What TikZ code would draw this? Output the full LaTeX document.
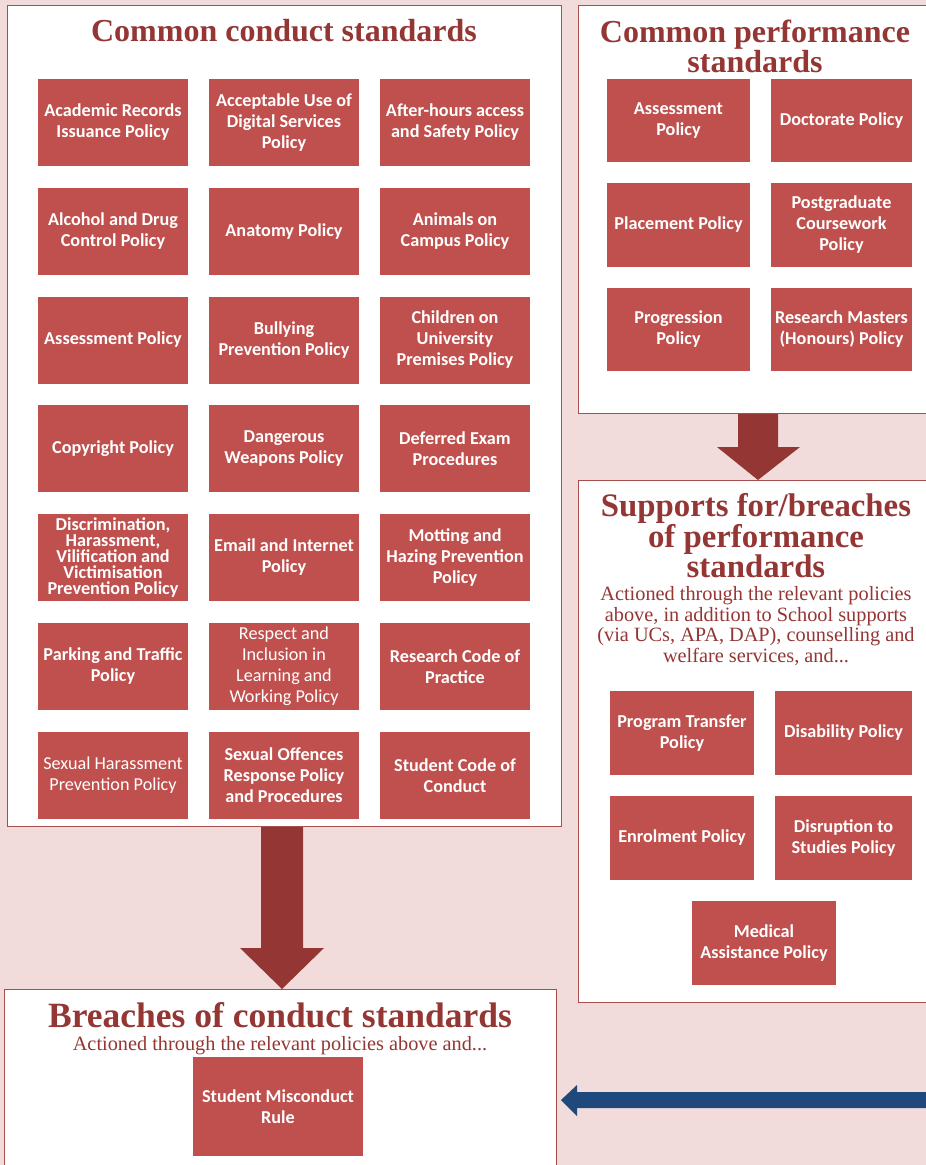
\documentclass[tikz,border=0pt]{standalone}
\usepackage{fontspec}
\setmainfont{Liberation Serif}
\newfontfamily\boxfont{Carlito}
\usetikzlibrary{calc}
\definecolor{bgpink}{HTML}{F2DCDB}
\definecolor{boxred}{HTML}{C0504D}
\definecolor{darkred}{HTML}{943634}
\definecolor{panelline}{HTML}{A5504D}
\definecolor{arrowblue}{HTML}{1F497D}
\tikzset{
  panel/.style={draw=panelline, fill=white, line width=1pt, anchor=north west, inner sep=0pt},
  pbox/.style={fill=boxred, text=white, align=center, inner sep=0pt, anchor=center,
    font=\boxfont\bfseries\fontsize{18.2}{21}\selectfont},
  lbox/.style={pbox, minimum width=150pt, minimum height=87pt},
  rbox/.style={pbox, minimum height=84pt},
  regtext/.style={font=\boxfont\fontsize{18.2}{21}\selectfont},
  ttl/.style={text=darkred, align=center, inner sep=0pt, font=\bfseries\fontsize{32}{30}\selectfont},
  sub/.style={text=darkred, align=center, inner sep=0pt, font=\fontsize{20.3}{20.7}\selectfont},
}
\begin{document}
\begin{tikzpicture}[x=1pt,y=-1pt]
\useasboundingbox (0,0) rectangle (926,1165);
\clip (0,0) rectangle (926,1165);
\fill[bgpink] (0,0) rectangle (926,1165);

% panels
\node[panel, minimum width=554pt, minimum height=821pt] (condpanel) at (7,5) {};
\node[panel, minimum width=360pt, minimum height=408pt] (perfpanel) at (578,5) {};
\node[panel, minimum width=360pt, minimum height=522pt] (supppanel) at (578,480) {};
\node[panel, minimum width=552pt, minimum height=200pt] (breachpanel) at (4,989) {};

% titles
\node[ttl] (t1) at (284,31) {Common conduct standards};
\node[ttl, font=\bfseries\fontsize{32}{30}\selectfont] (t2) at (755,46) {Common performance\\standards};
\node[ttl, font=\bfseries\fontsize{32.8}{30.5}\selectfont] (t3) at (756,536) {Supports for/breaches\\of performance\\standards};
\node[sub] (s3) at (756,626) {Actioned through the relevant policies\\above, in addition to School supports\\(via UCs, APA, DAP), counselling and\\welfare services, and...};
\node[ttl, font=\bfseries\fontsize{35.5}{34}\selectfont] (t4) at (280,1015) {Breaches of conduct standards};
\node[sub] (s4) at (280,1046) {Actioned through the relevant policies above and...};

% left grid
\node[lbox] (c11) at (113,122.5) {Academic Records\\Issuance Policy};
\node[lbox] (c12) at (284,122.5) {Acceptable Use of\\Digital Services\\Policy};
\node[lbox] (c13) at (455,122.5) {After-hours access\\and Safety Policy};
\node[lbox] (c21) at (113,231.5) {Alcohol and Drug\\Control Policy};
\node[lbox] (c22) at (284,231.5) {Anatomy Policy};
\node[lbox] (c23) at (455,231.5) {Animals on\\Campus Policy};
\node[lbox] (c31) at (113,340) {Assessment Policy};
\node[lbox] (c32) at (284,340) {Bullying\\Prevention Policy};
\node[lbox] (c33) at (455,340) {Children on\\University\\Premises Policy};
\node[lbox] (c41) at (113,448.5) {Copyright Policy};
\node[lbox] (c42) at (284,448.5) {Dangerous\\Weapons Policy};
\node[lbox] (c43) at (455,448.5) {Deferred Exam\\Procedures};
\node[lbox, font=\boxfont\bfseries\fontsize{18.2}{16}\selectfont] (c51) at (113,557.5) {Discrimination,\\Harassment,\\Vilification and\\Victimisation\\Prevention Policy};
\node[lbox] (c52) at (284,557.5) {Email and Internet\\Policy};
\node[lbox] (c53) at (455,557.5) {Motting and\\Hazing Prevention\\Policy};
\node[lbox] (c61) at (113,666.5) {Parking and Traffic\\Policy};
\node[lbox, regtext] (c62) at (284,666.5) {Respect and\\Inclusion in\\Learning and\\Working Policy};
\node[lbox] (c63) at (455,666.5) {Research Code of\\Practice};
\node[lbox, regtext] (c71) at (113,775.5) {Sexual Harassment\\Prevention Policy};
\node[lbox] (c72) at (284,775.5) {Sexual Offences\\Response Policy\\and Procedures};
\node[lbox] (c73) at (455,775.5) {Student Code of\\Conduct};

% right top grid
\node[rbox, minimum width=143pt, minimum height=83pt] (p11) at (678.5,120.5) {Assessment\\Policy};
\node[rbox, minimum width=141pt, minimum height=83pt] (p12) at (841.5,120.5) {Doctorate Policy};
\node[rbox, minimum width=143pt] (p21) at (678.5,225) {Placement Policy};
\node[rbox, minimum width=141pt] (p22) at (841.5,225) {Postgraduate\\Coursework\\Policy};
\node[rbox, minimum width=143pt, minimum height=83pt] (p31) at (678.5,329.5) {Progression\\Policy};
\node[rbox, minimum width=141pt, minimum height=83pt] (p32) at (841.5,329.5) {Research Masters\\(Honours) Policy};

% right lower grid
\node[rbox, minimum width=144pt] (q11) at (682,733) {Program Transfer\\Policy};
\node[rbox, minimum width=137pt] (q12) at (843.5,733) {Disability Policy};
\node[rbox, minimum width=144pt] (q21) at (682,838) {Enrolment Policy};
\node[rbox, minimum width=137pt] (q22) at (843.5,838) {Disruption to\\Studies Policy};
\node[rbox, minimum width=144pt] (q31) at (764,943) {Medical\\Assistance Policy};

% bottom
\node[pbox, minimum width=170pt, minimum height=99pt] (m1) at (278,1106.5) {Student Misconduct\\Rule};

% arrows
\coordinate (a1s) at (condpanel.south -| 282,0);
\coordinate (a1t) at (breachpanel.north -| 282,0);
\fill[darkred] ($(a1s)+(-21,0)$) -- ($(a1s)+(21,0)$) -- ($(a1t)+(21,-41)$) -- ($(a1t)+(42,-41)$)
  -- (a1t) -- ($(a1t)+(-42,-41)$) -- ($(a1t)+(-21,-41)$) -- cycle;

\coordinate (a2s) at (perfpanel.south -| 758,0);
\coordinate (a2t) at (supppanel.north -| 758,0);
\fill[darkred] ($(a2s)+(-20,0)$) -- ($(a2s)+(20,0)$) -- ($(a2t)+(20,-33)$) -- ($(a2t)+(42,-33)$)
  -- (a2t) -- ($(a2t)+(-41,-33)$) -- ($(a2t)+(-20,-33)$) -- cycle;

\coordinate (b1s) at (930,1100);
\coordinate (b1t) at ($(breachpanel.east |- 0,1100)+(4,0)$);
\fill[arrowblue] ($(b1s)+(0,-8)$) -- ($(b1t)+(16,-8)$) -- ($(b1t)+(16,-15)$) -- (b1t)
  -- ($(b1t)+(16,16)$) -- ($(b1t)+(16,8)$) -- ($(b1s)+(0,8)$) -- cycle;
\end{tikzpicture}
\end{document}
